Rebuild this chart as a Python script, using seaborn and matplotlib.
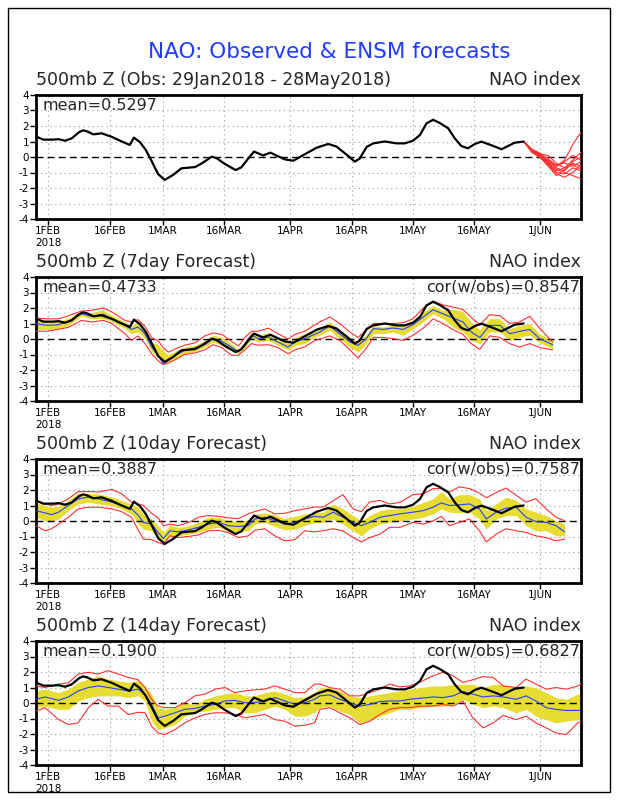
import numpy as np
import pandas as pd
import matplotlib
matplotlib.use("Agg")
import matplotlib.pyplot as plt
import matplotlib.patches as mpatches
import seaborn as sns

# ---------------- data (days counted from 1 Feb 2018) ----------------
tick_dates = ["2018-02-01", "2018-02-16", "2018-03-01", "2018-03-16", "2018-04-01",
              "2018-04-16", "2018-05-01", "2018-05-16", "2018-06-01"]
tick_labels = ["1FEB\n2018", "16FEB", "1MAR", "16MAR", "1APR", "16APR", "1MAY", "16MAY", "1JUN"]
y_ticks = [4, 3, 2, 1, 0, -1, -2, -3, -4]

obs_days = [-3, -1.2, 1.0, 2.5, 4.1, 5.7, 7.5, 8.5, 9.5, 11, 13, 15.5, 17.5, 19.9, 20.9, 22.4,
            23.8, 25, 26.8, 28.4, 30.5, 32.5, 35.8, 37.4, 39.9, 41.1, 43.1, 45.7, 47.1, 48.8,
            50.2, 52.4, 54.2, 55.7, 57.7, 59.8, 62.2, 65.5, 68.3, 70.3, 72.8, 74.8, 76, 77.7,
            79.3, 82.1, 85, 87, 89, 90.7, 92.3, 93.9, 95.5, 97.6, 99.2, 100.8, 102.4, 104.1,
            105.7, 107.3, 109, 110.6, 112.2, 113.8, 116]
obs_vals = [1.32, 1.12, 1.12, 1.15, 1.05, 1.2, 1.6, 1.72, 1.65, 1.46, 1.53, 1.3, 1.05, 0.78, 1.25,
            0.95, 0.45, -0.15, -1.1, -1.48, -1.15, -0.73, -0.65, -0.42, 0.02, -0.08, -0.45, -0.84,
            -0.67, -0.1, 0.35, 0.1, 0.28, 0.09, -0.15, -0.24, 0.12, 0.6, 0.84, 0.68, 0.15, -0.3,
            -0.1, 0.65, 0.88, 1.0, 0.88, 0.88, 1.05, 1.42, 2.17, 2.4, 2.2, 1.85, 1.2, 0.71, 0.56,
            0.84, 0.99, 0.84, 0.67, 0.5, 0.71, 0.92, 1.0]

ens_days = [116, 118, 120, 122, 124, 126, 128, 130]
ens_members = [
    [1.0, 0.45, 0.10, -0.30, -0.60, -0.20, 0.80, 1.60],
    [1.0, 0.40, 0.05, -0.40, -0.90, -0.70, -0.20, 0.30],
    [1.0, 0.50, 0.15, -0.20, -0.50, -0.40, -0.60, -0.30],
    [1.0, 0.35, 0.00, -0.50, -1.10, -1.30, -1.00, -0.50],
    [1.0, 0.45, 0.20, 0.10, -0.40, -0.70, -0.50, -0.80],
    [1.0, 0.40, 0.10, -0.35, -0.80, -1.00, -1.20, -1.40],
    [1.0, 0.50, 0.25, -0.10, -0.60, -0.30, 0.10, -0.20],
    [1.0, 0.40, 0.00, -0.60, -1.20, -0.80, -0.40, -0.60],
    [1.0, 0.45, 0.15, -0.25, -0.70, -0.90, -0.30, 0.00],
    [1.0, 0.30, -0.05, -0.45, -1.00, -1.10, -0.70, -0.90],
]

f7_days = [-3, -0.3, 2.5, 4.9, 8.1, 10.6, 13.4, 15.5, 18.7, 20.3, 21.9, 23.6, 25.2, 26.8, 28.0,
           29.3, 30.9, 33.3, 35.8, 38.2, 40.2, 42.3, 44.7, 46.4, 48, 49.6, 51.2, 53.7, 56, 58.5,
           60.2, 62.6, 65, 66.3, 68.7, 71.1, 73.6, 75.6, 77.6, 79.3, 81.7, 84.1, 86.6, 89, 91.5,
           93.9, 96.3, 98.8, 101.2, 103.2, 105.3, 107.7, 110.2, 112.6, 115, 117.5, 119.9, 123.1]
f7_mean = [0.99, 0.88, 0.92, 1.14, 1.63, 1.46, 1.6, 1.31, 0.88, 0.62, 0.77, 0.34, -0.52, -1.0, -1.6,
           -1.38, -1.05, -0.73, -0.58, -0.37, 0.02, -0.15, -0.52, -0.84, -0.3, 0.28, 0.02, 0.13,
           -0.19, -0.52, -0.19, 0.02, 0.3, 0.45, 0.84, 0.34, -0.19, -0.41, 0.02, 0.67, 0.62, 0.71,
           0.62, 0.92, 1.42, 1.89, 1.63, 1.35, 1.1, 0.45, 0.1, 0.88, 0.88, 0.34, 0.49, 0.62, 0.02,
           -0.37]
f7_band_lo = [0.62, 0.62, 0.67, 0.88, 1.48, 1.31, 1.31, 1.14, 0.67, 0.34, 0.45, 0.02, -0.8, -1.2,
              -1.55, -1.5, -1.28, -0.95, -0.8, -0.52, -0.2, -0.41, -0.73, -0.95, -0.55, 0.02, -0.2,
              -0.09, -0.4, -0.7, -0.41, -0.3, 0.13, 0.24, 0.56, 0.02, -0.52, -0.84, -0.3, 0.34,
              0.34, 0.45, 0.24, 0.67, 1.1, 1.63, 1.31, 0.77, 0.45, -0.09, -0.3, 0.45, 0.45, -0.09,
              0.13, 0.24, -0.24, -0.62]
f7_band_hi = [1.3, 1.21, 1.14, 1.35, 1.78, 1.7, 1.89, 1.53, 1.1, 0.84, 1.1, 0.56, -0.2, -0.35,
              -0.75, -1.0, -0.8, -0.52, -0.4, -0.09, 0.24, 0.13, -0.3, -0.67, -0.1, 0.45, 0.24,
              0.41, 0.05, -0.25, 0.13, 0.34, 0.56, 0.67, 1.1, 0.62, 0.13, -0.2, 0.28, 0.88, 0.77,
              0.88, 0.88, 1.2, 1.74, 2.17, 1.85, 1.92, 1.78, 1.1, 0.6, 1.31, 1.31, 0.67, 0.88,
              0.99, 0.34, -0.09]
f7_red_lo = [0.5, 0.5, 0.63, 0.75, 1.2, 1.1, 1.2, 1.0, 0.34, -0.09, 0.2, -0.3, -0.95, -1.4, -1.65,
             -1.55, -1.35, -1.0, -0.9, -0.7, -0.37, -0.55, -1.05, -1.05, -0.7, -0.3, -0.4, -0.37,
             -0.55, -0.95, -0.7, -0.5, -0.1, 0.0, 0.2, -0.09, -0.7, -1.23, -0.6, 0.1, 0.1, 0.02,
             -0.09, 0.24, 0.7, 1.3, 1.0, 0.6, 0.3, -0.3, -0.67, 0.2, 0.1, -0.3, -0.52, -0.3, -0.55,
             -0.7]
f7_red_hi = [1.35, 1.3, 1.3, 1.5, 1.8, 1.85, 2.0, 1.75, 1.2, 1.1, 1.25, 0.8, 0.1, -0.1, -0.55,
             -0.85, -0.65, -0.4, -0.25, 0.2, 0.39, 0.3, -0.15, -0.45, 0.1, 0.5, 0.5, 0.7, 0.35,
             0.0, 0.3, 0.5, 0.9, 1.1, 1.42, 1.0, 0.45, 0.1, 0.6, 0.99, 1.0, 0.99, 1.05, 1.3, 2.0,
             2.45, 2.2, 2.06, 1.9, 1.4, 0.9, 1.57, 1.5, 1.0, 1.1, 1.46, 0.7, -0.2]

f10_days = [-3, -0.8, 0.8, 2.5, 4.9, 7.3, 9.8, 12.2, 15.5, 17.9, 20.3, 22, 23.2, 25.2, 26.8, 28.1,
            29.7, 31.7, 34.2, 36.6, 39, 41.5, 43.9, 46.3, 48.8, 50.4, 52.8, 55.3, 57.7, 60.2, 62.6,
            65, 67.1, 69.5, 71.9, 74.4, 76.4, 78.4, 80.9, 83.3, 85.8, 89, 91.5, 93.9, 95.9, 97.9,
            100.3, 102.8, 105.2, 106.9, 109.3, 111.7, 114.2, 116.6, 119, 121.5, 123.9, 126]
f10_mean = [0.67, 0.52, 0.41, 0.57, 1.0, 1.43, 1.54, 1.43, 1.22, 1.0, 0.78, 0.35, -0.09, -0.2,
            -0.74, -1.13, -0.63, -0.7, -0.57, -0.41, -0.2, -0.09, -0.3, -0.35, -0.3, 0.13, 0.24,
            0.02, -0.2, -0.09, 0.13, 0.3, 0.24, 0.57, 0.24, -0.09, -0.3, -0.09, 0.24, 0.35, 0.46,
            0.57, 0.67, 0.89, 1.17, 1.0, 1.04, 1.1, 0.78, 0.13, 0.57, 0.83, 0.89, 0.24, -0.04,
            -0.09, -0.3, -0.7]
f10_band_lo = [0.24, 0.02, -0.04, 0.13, 0.67, 1.1, 1.22, 1.1, 1.0, 0.78, 0.46, -0.2, -0.52, -0.63,
               -1.17, -1.43, -0.96, -0.96, -0.85, -0.74, -0.52, -0.41, -0.63, -0.7, -0.63, -0.2,
               -0.09, -0.35, -0.57, -0.52, -0.3, -0.1, -0.09, 0.13, -0.2, -0.63, -0.96, -0.52,
               -0.2, -0.09, 0.02, 0.13, 0.24, 0.46, 0.78, 0.57, 0.52, 0.57, 0.13, -0.52, 0.13,
               0.35, 0.35, -0.3, -0.63, -0.63, -0.96, -0.96]
f10_band_hi = [1.2, 1.0, 0.89, 0.95, 1.33, 1.8, 1.76, 1.76, 1.54, 1.33, 1.1, 0.89, 0.46, 0.13,
               -0.3, -0.74, -0.26, -0.41, -0.3, -0.09, 0.24, 0.24, 0.02, -0.04, 0.09, 0.46, 0.52,
               0.39, 0.17, 0.3, 0.46, 0.55, 0.57, 1.1, 0.78, 0.35, 0.02, 0.35, 0.67, 0.78, 0.78,
               0.96, 1.2, 1.43, 1.91, 1.43, 1.7, 1.7, 1.43, 0.67, 1.1, 1.54, 1.33, 0.78, 0.57,
               0.35, 0.02, -0.2]
f10_red_lo = [-0.3, -0.63, -0.5, -0.2, 0.24, 0.78, 0.89, 0.89, 0.78, 0.6, 0.24, -0.6, -1.17, -1.2,
              -1.39, -1.5, -0.96, -1.07, -1.0, -0.9, -0.63, -0.6, -0.74, -1.07, -0.96, -0.6, -0.5,
              -0.96, -1.28, -1.2, -0.63, -0.7, -0.63, -0.5, -0.63, -1.07, -1.35, -1.07, -0.85,
              -0.41, -0.41, -0.09, -0.2, 0.0, 0.3, -0.3, -0.09, 0.13, -0.63, -1.35, -0.85, -0.5,
              -0.63, -0.74, -0.96, -1.07, -1.28, -1.17]
f10_red_hi = [1.25, 1.1, 1.0, 1.1, 1.43, 1.9, 1.9, 1.87, 2.04, 1.76, 1.22, 1.1, 1.0, 0.5, 0.2,
              -0.3, -0.2, -0.3, -0.1, 0.24, 0.35, 0.3, 0.2, 0.15, 0.46, 0.61, 0.78, 0.46, 0.5,
              0.67, 0.78, 0.9, 0.9, 1.3, 1.7, 0.78, 0.6, 1.22, 1.33, 1.1, 1.2, 1.7, 1.75, 2.09,
              2.09, 1.87, 2.2, 2.09, 1.8, 1.5, 1.83, 2.13, 1.65, 1.22, 1.43, 0.78, 0.24, 0.02]

f14_days = [-3, -0.8, 2.5, 4.9, 7.3, 9.8, 12.2, 14.6, 17.1, 19.5, 21.9, 23.6, 25.2, 26.8, 28.4,
            30.9, 33.3, 35.8, 38.2, 40.7, 43.1, 45.5, 48, 50.4, 52.8, 55.3, 57.7, 60.2, 62.6, 65,
            66.3, 68.7, 71.1, 73.6, 76, 78.5, 80.9, 83.3, 85.8, 88.2, 90.6, 93.9, 96.3, 98.8,
            101.2, 103.6, 106.1, 108.6, 111, 114.2, 116.6, 119, 121.5, 123.9, 126.4, 129.2, 130]
f14_mean = [0.24, 0.39, 0.17, 0.39, 0.78, 1.0, 1.1, 1.0, 0.89, 0.78, 0.89, 0.57, -0.09, -0.96,
            -0.85, -0.63, -0.41, -0.35, -0.2, -0.09, 0.13, 0.17, 0.02, 0.02, 0.13, 0.35, 0.13,
            -0.09, 0.02, 0.24, 0.46, 0.52, 0.24, 0.02, -0.2, -0.09, 0.09, 0.13, 0.13, 0.24, 0.3,
            0.39, 0.35, 0.46, 0.74, 0.57, 0.39, 0.46, 0.39, 0.24, 0.46, 0.13, -0.3, -0.41, -0.48,
            -0.48, -0.45]
f14_band_lo = [-0.3, -0.2, -0.41, -0.41, 0.13, 0.35, 0.46, 0.46, 0.46, 0.35, 0.46, 0.13, -1.17,
               -1.72, -1.61, -1.39, -0.85, -0.63, -0.52, -0.41, -0.3, -0.3, -0.63, -0.63, -0.41,
               -0.2, -0.41, -0.85, -0.85, -0.6, -0.3, -0.2, -0.52, -0.74, -1.28, -1.07, -0.85,
               -0.63, -0.41, -0.41, -0.3, -0.2, -0.2, -0.09, 0.24, -0.09, -0.3, -0.2, -0.3, -0.63,
               -0.41, -0.85, -1.07, -1.28, -1.17, -1.07, -1.0]
f14_band_hi = [0.78, 0.89, 0.67, 0.89, 1.33, 1.54, 1.76, 1.54, 1.43, 1.33, 1.43, 1.1, 0.57, -0.3,
               -0.41, -0.3, 0.02, -0.09, 0.24, 0.46, 0.57, 0.67, 0.46, 0.46, 0.67, 0.78, 0.57,
               0.35, 0.39, 0.67, 0.99, 0.99, 0.78, 0.46, 0.35, 0.46, 0.57, 0.67, 0.78, 0.89, 0.99,
               1.1, 1.1, 1.2, 1.2, 1.2, 0.99, 1.2, 1.2, 0.99, 1.1, 0.99, 0.67, 0.35, 0.24, 0.57,
               0.6]
f14_red_lo = [-0.52, -0.3, -1.07, -1.39, -1.28, -0.3, 0.24, -0.2, -0.2, -0.74, -0.6, -0.63, -1.5,
              -1.93, -2.04, -1.72, -1.28, -0.96, -0.74, -0.63, -0.63, -0.74, -0.96, -0.85, -0.74,
              -1.07, -1.17, -1.5, -1.43, -1.28, -0.41, -0.3, -0.63, -0.96, -1.39, -1.17, -0.74,
              -0.41, -0.3, -0.3, -0.2, -0.2, -0.1, -0.2, 0.13, -0.96, -1.6, -1.28, -0.8, -1.07,
              -0.85, -1.28, -1.61, -1.93, -2.04, -1.28, -1.2]
f14_red_hi = [1.1, 1.0, 1.22, 1.3, 1.87, 1.98, 1.87, 2.09, 1.87, 1.65, 1.5, 1.0, 0.24, -0.2, -0.3,
              -0.3, 0.02, 0.46, 0.57, 0.89, 1.0, 0.67, 0.78, 0.85, 0.9, 1.1, 0.9, 0.67, 0.67, 1.22,
              1.22, 0.99, 0.89, 0.46, 0.46, 0.67, 0.89, 1.22, 1.04, 1.1, 1.33, 1.75, 1.98, 1.75,
              1.33, 1.5, 1.7, 1.65, 1.1, 1.0, 1.54, 1.22, 0.89, 1.0, 0.89, 1.1, 1.2]

panel_titles = ["500mb Z (Obs: 29Jan2018 - 28May2018)", "500mb Z (7day Forecast)",
                "500mb Z (10day Forecast)", "500mb Z (14day Forecast)"]
panel_means = ["mean=0.5297", "mean=0.4733", "mean=0.3887", "mean=0.1900"]
panel_cors = [None, "cor(w/obs)=0.8547", "cor(w/obs)=0.7587", "cor(w/obs)=0.6827"]
main_title = "NAO: Observed & ENSM forecasts"
right_label = "NAO index"

# ---------------- style ----------------
sns.set_style("white")
plt.rcParams['font.family'] = ['DejaVu Sans']

YELLOW = "#e6dc32"
RED = "#ff3030"
BLUE = "#2840ff"
GRIDC = "#a8a8a8"

W, H = 618, 800
fig = plt.figure(figsize=(W / 100, H / 100), dpi=100)
fig.patch.set_facecolor("white")

# outer frame
fig.add_artist(mpatches.Rectangle((7.5 / W, 1 - 792 / H), (610 - 7.5) / W, (792 - 8.3) / H,
                                  transform=fig.transFigure, fill=False, edgecolor="black",
                                  linewidth=1.0))
fig.text(329 / W, 1 - 52.5 / H, main_title, color="#1f3cff", fontsize=15.5,
         ha="center", va="center")

base = pd.Timestamp("2018-02-01")
tick_pos = [(pd.Timestamp(d) - base).days for d in tick_dates]

ax_left, ax_right = 36, 581
tops = [95, 277, 459, 641]
ax_h = 124

fc = [
    None,
    (f7_days, f7_mean, f7_band_lo, f7_band_hi, f7_red_lo, f7_red_hi),
    (f10_days, f10_mean, f10_band_lo, f10_band_hi, f10_red_lo, f10_red_hi),
    (f14_days, f14_mean, f14_band_lo, f14_band_hi, f14_red_lo, f14_red_hi),
]

for i in range(4):
    ax = fig.add_axes([ax_left / W, 1 - (tops[i] + ax_h) / H, (ax_right - ax_left) / W, ax_h / H])
    ax.set_xlim(-3, 130)
    ax.set_ylim(-4, 4)
    # grid
    for tp in tick_pos:
        ax.axvline(tp, color=GRIDC, lw=0.8, ls=(0, (1.2, 3)), zorder=0)
    for yv in [-3, -2, -1, 1, 2, 3]:
        ax.axhline(yv, color=GRIDC, lw=0.8, ls=(0, (1.2, 3)), zorder=0)

    if fc[i] is not None:
        d, m, blo, bhi, rlo, rhi = fc[i]
        ax.fill_between(d, blo, bhi, color=YELLOW, lw=0, zorder=1)
        sns.lineplot(x=d, y=rlo, ax=ax, color=RED, lw=0.8, estimator=None, sort=False, zorder=3)
        sns.lineplot(x=d, y=rhi, ax=ax, color=RED, lw=0.8, estimator=None, sort=False, zorder=3)
        sns.lineplot(x=d, y=m, ax=ax, color=BLUE, lw=0.8, estimator=None, sort=False, zorder=4)
    else:
        for mem in ens_members:
            sns.lineplot(x=ens_days, y=mem, ax=ax, color=RED, lw=0.8, estimator=None,
                         sort=False, zorder=3)

    ax.axhline(0, color="black", lw=1.0, ls=(0, (5, 3)), zorder=2)
    sns.lineplot(x=obs_days, y=obs_vals, ax=ax, color="black", lw=1.6, estimator=None,
                 sort=False, zorder=5)

    ax.set_xlim(-3, 130)
    ax.set_ylim(-4, 4)
    ax.set_xticks(tick_pos)
    ax.set_xticklabels(tick_labels, fontsize=7.5)
    ax.set_yticks(y_ticks)
    ax.set_yticklabels([str(v) for v in y_ticks], fontsize=7.5)
    ax.tick_params(axis="both", direction="out", length=4, width=1, colors="black", pad=1,
                   bottom=True, left=True, top=False, right=False)
    ax.set_xlabel("")
    ax.set_ylabel("")
    for sp in ax.spines.values():
        sp.set_visible(True)
        sp.set_color("black")
        sp.set_linewidth(2.0)

    ax.annotate(panel_titles[i], xy=(0, 1), xycoords="axes fraction", xytext=(0, 4.5),
                textcoords="offset points", ha="left", va="bottom", fontsize=12.5)
    ax.annotate(right_label, xy=(1, 1), xycoords="axes fraction", xytext=(0, 4.5),
                textcoords="offset points", ha="right", va="bottom", fontsize=12.5)
    ax.annotate(panel_means[i], xy=(0, 1), xycoords="axes fraction", xytext=(5, -2),
                textcoords="offset points", ha="left", va="top", fontsize=11.5, zorder=6)
    if panel_cors[i] is not None:
        ax.annotate(panel_cors[i], xy=(1, 1), xycoords="axes fraction", xytext=(-1, -2),
                    textcoords="offset points", ha="right", va="top", fontsize=11.5, zorder=6)

fig.savefig("out.png", dpi=100, facecolor="white")
